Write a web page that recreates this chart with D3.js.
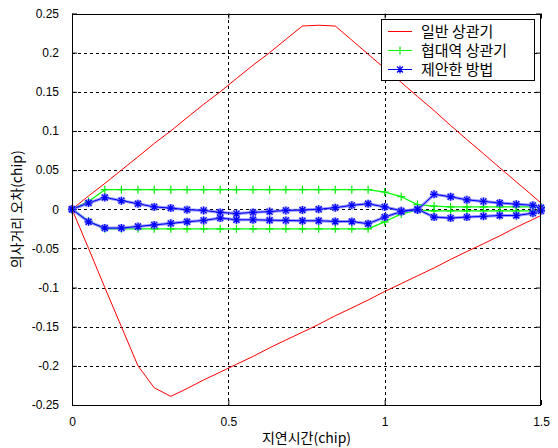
<!DOCTYPE html>
<html><head><meta charset="utf-8">
<script src="https://cdn.jsdelivr.net/npm/d3@7"></script>
<style>
html,body{margin:0;padding:0;background:#fff;}
svg{display:block;}
</style></head>
<body>
<svg id="chart" width="558" height="448"></svg>
<script>
// ---- data ----
const delay = [0, 0.053, 0.105, 0.158, 0.211, 0.263, 0.316, 0.368, 0.421, 0.474, 0.526, 0.579, 0.632, 0.684, 0.737, 0.789, 0.842, 0.895, 0.947, 1.0, 1.053, 1.105, 1.158, 1.211, 1.263, 1.316, 1.368, 1.421, 1.474, 1.5];
const conventionalUpper = [0, 0.017, 0.033, 0.050, 0.067, 0.084, 0.100, 0.117, 0.134, 0.150, 0.167, 0.184, 0.200, 0.217, 0.234, 0.235, 0.234, 0.216, 0.198, 0.180, 0.162, 0.144, 0.126, 0.107, 0.089, 0.071, 0.053, 0.035, 0.017, 0.008];
const conventionalLower = [0, -0.050, -0.100, -0.150, -0.200, -0.228, -0.239, -0.229, -0.218, -0.208, -0.198, -0.188, -0.177, -0.167, -0.157, -0.147, -0.136, -0.126, -0.116, -0.105, -0.095, -0.085, -0.075, -0.064, -0.054, -0.044, -0.034, -0.023, -0.013, -0.008];
const narrowUpper = [0, 0.010, 0.025, 0.025, 0.025, 0.025, 0.025, 0.025, 0.025, 0.025, 0.025, 0.025, 0.025, 0.025, 0.025, 0.025, 0.025, 0.025, 0.025, 0.022, 0.016, 0.006, 0.004, 0.003, 0.003, 0.003, 0.003, 0.003, 0.003, 0.003];
const narrowLower = [0, -0.015, -0.025, -0.025, -0.025, -0.025, -0.025, -0.025, -0.025, -0.025, -0.025, -0.025, -0.025, -0.025, -0.025, -0.025, -0.025, -0.025, -0.025, -0.016, -0.006, -0.001, -0.002, -0.002, -0.002, -0.002, -0.002, -0.002, -0.002, -0.002];
const proposedUpper = [0, 0.008, 0.015, 0.011, 0.007, 0.003, 0.0015, -0.0005, -0.0015, -0.004, -0.0055, -0.004, -0.003, -0.0015, -0.001, 0.000, 0.002, 0.005, 0.007, 0.003, -0.002, -0.001, 0.019, 0.016, 0.012, 0.010, 0.008, 0.0065, 0.005, 0.002];
const proposedLower = [0, -0.016, -0.024, -0.024, -0.022, -0.020, -0.018, -0.016, -0.0143, -0.0113, -0.0134, -0.0134, -0.014, -0.0143, -0.0147, -0.0147, -0.0156, -0.0156, -0.0185, -0.010, -0.003, 0.000, -0.010, -0.0113, -0.010, -0.009, -0.008, -0.008, -0.005, -0.002];
const seriesNames = ["일반 상관기", "협대역 상관기", "제안한 방법"];
const xTicks = [0, 0.5, 1, 1.5];
const xTickLabels = ["0", "0.5", "1", "1.5"];
const yTicks = [0.25, 0.2, 0.15, 0.1, 0.05, 0, -0.05, -0.1, -0.15, -0.2, -0.25];
const yTickLabels = ["0.25", "0.2", "0.15", "0.1", "0.05", "0", "-0.05", "-0.1", "-0.15", "-0.2", "-0.25"];
const xTitle = "지연시간(chip)";
const yTitle = "의사거리 오차(chip)";

// ---- layout ----
const L = 72, R = 541, T = 13.5, B = 405;
const svg = d3.select("#chart");
const x = d3.scaleLinear().domain([0, 1.5]).range([L, R]);
const y = d3.scaleLinear().domain([-0.25, 0.25]).range([B, T]);
const numFont = "'Liberation Sans', Arial, sans-serif";
const krFont = "'Noto Sans CJK KR', sans-serif";

svg.append("rect").attr("width", 558).attr("height", 448).attr("fill", "#fff");
svg.append("rect").attr("x", L).attr("y", T).attr("width", R - L).attr("height", B - T).attr("fill", "#fff");

// grid
const grid = svg.append("g").attr("stroke", "#000").attr("stroke-width", 1).attr("stroke-dasharray", "3,3").attr("shape-rendering", "crispEdges");
xTicks.slice(1, -1).forEach(v => grid.append("line").attr("x1", Math.round(x(v)) + 0.5).attr("x2", Math.round(x(v)) + 0.5).attr("y1", T).attr("y2", B));
yTicks.slice(1, -1).forEach(v => grid.append("line").attr("y1", Math.round(y(v)) + 0.5).attr("y2", Math.round(y(v)) + 0.5).attr("x1", L).attr("x2", R));

// axes via d3 axis (inward ticks)
const axB = d3.axisBottom(x).tickValues(xTicks).tickFormat((d, i) => xTickLabels[i]).tickSizeInner(-5).tickSizeOuter(0).tickPadding(12);
const axL = d3.axisLeft(y).tickValues(yTicks).tickFormat((d, i) => yTickLabels[i]).tickSizeInner(-5).tickSizeOuter(0).tickPadding(13);
const axT = d3.axisTop(x).tickValues(xTicks).tickFormat("").tickSizeInner(-5).tickSizeOuter(0);
const axR = d3.axisRight(y).tickValues(yTicks).tickFormat("").tickSizeInner(-5).tickSizeOuter(0);
function style(g) {
  g.select(".domain").remove();
  g.selectAll("line").attr("stroke", "#000");
  g.selectAll("text").attr("font-family", numFont).attr("font-size", 12).attr("fill", "#000");
}
svg.append("g").attr("transform", `translate(0,${B})`).call(axB).call(style);
svg.append("g").attr("transform", `translate(${L},0)`).call(axL).call(style);
svg.append("g").attr("transform", `translate(0,${T})`).call(axT).call(style);
svg.append("g").attr("transform", `translate(${R},0)`).call(axR).call(style);

// series
const line = d3.line().x((d, i) => x(delay[i])).y(d => y(d));
function drawLine(vals, color, w) {
  svg.append("path").datum(vals).attr("d", line).attr("fill", "none").attr("stroke", color).attr("stroke-width", w).attr("stroke-linejoin", "round");
}
function plusPath(cx, cy, s) { return `M${cx - s},${cy}H${cx + s}M${cx},${cy - s}V${cy + s}`; }
function starPath(cx, cy, s) {
  const d = s * 0.75;
  return `M${cx - s},${cy}H${cx + s}M${cx},${cy - s}V${cy + s}M${cx - d},${cy - d}L${cx + d},${cy + d}M${cx - d},${cy + d}L${cx + d},${cy - d}`;
}
function drawMarkers(vals, fn, color, w, halo) {
  const g = svg.append("g");
  if (halo) {
    g.selectAll("path.h").data(vals).join("path").attr("class", "h")
      .attr("d", (d, i) => fn(x(delay[i]), y(d), 4)).attr("stroke", halo).attr("stroke-width", 3).attr("fill", "none");
  }
  g.selectAll("path.m").data(vals).join("path").attr("class", "m")
    .attr("d", (d, i) => fn(x(delay[i]), y(d), 4)).attr("stroke", color).attr("stroke-width", w).attr("fill", "none");
}

drawLine(conventionalUpper, "#ff0000", 1);
drawLine(conventionalLower, "#ff0000", 1);

drawLine(narrowUpper, "#00ff00", 1.3);
drawLine(narrowLower, "#00ff00", 1.3);
drawMarkers(narrowUpper, plusPath, "#00ee00", 1.2);
drawMarkers(narrowLower, plusPath, "#00ee00", 1.2);

drawLine(proposedUpper, "rgba(110,110,255,0.7)", 3);
drawLine(proposedLower, "rgba(110,110,255,0.7)", 3);
drawLine(proposedUpper, "#0000ff", 1);
drawLine(proposedLower, "#0000ff", 1);
drawMarkers(proposedUpper, starPath, "#0000ff", 1.2, "rgba(120,120,255,0.6)");
drawMarkers(proposedLower, starPath, "#0000ff", 1.2, "rgba(120,120,255,0.6)");

// frame
svg.append("rect").attr("x", L + 0.5).attr("y", Math.round(T) + 0.5).attr("width", R - L - 1).attr("height", Math.round(B) - Math.round(T))
  .attr("fill", "none").attr("stroke", "#000").attr("shape-rendering", "crispEdges");

// legend
const lg = svg.append("g");
lg.append("rect").attr("x", 381.5).attr("y", 19.5).attr("width", 153).attr("height", 61).attr("fill", "#fff").attr("stroke", "#000").attr("shape-rendering", "crispEdges");
const lColors = ["#ff0000", "#00ff00", "#0000ff"];
const lY = [31.5, 50.5, 69.5];
seriesNames.forEach((name, i) => {
  lg.append("line").attr("x1", 388).attr("x2", 412).attr("y1", lY[i]).attr("y2", lY[i]).attr("stroke", lColors[i]).attr("stroke-width", 1);
  if (i === 1) lg.append("path").attr("d", plusPath(400, lY[i], 4)).attr("stroke", "#00ee00").attr("stroke-width", 1.2);
  if (i === 2) lg.append("path").attr("d", starPath(400, lY[i], 4)).attr("stroke", "#0000ff").attr("stroke-width", 1.2);
  lg.append("text").attr("x", 421).attr("y", lY[i]).attr("dy", "0.36em").attr("font-family", krFont).attr("font-size", 15).attr("fill", "#000").text(name);
});

// titles
svg.append("text").attr("x", (L + R) / 2).attr("y", 443).attr("text-anchor", "middle").attr("font-family", krFont).attr("font-size", 14).text(xTitle);
svg.append("text").attr("transform", `translate(22,${(T + B) / 2}) rotate(-90)`).attr("text-anchor", "middle").attr("font-family", krFont).attr("font-size", 14).text(yTitle);
</script>
</body></html>
